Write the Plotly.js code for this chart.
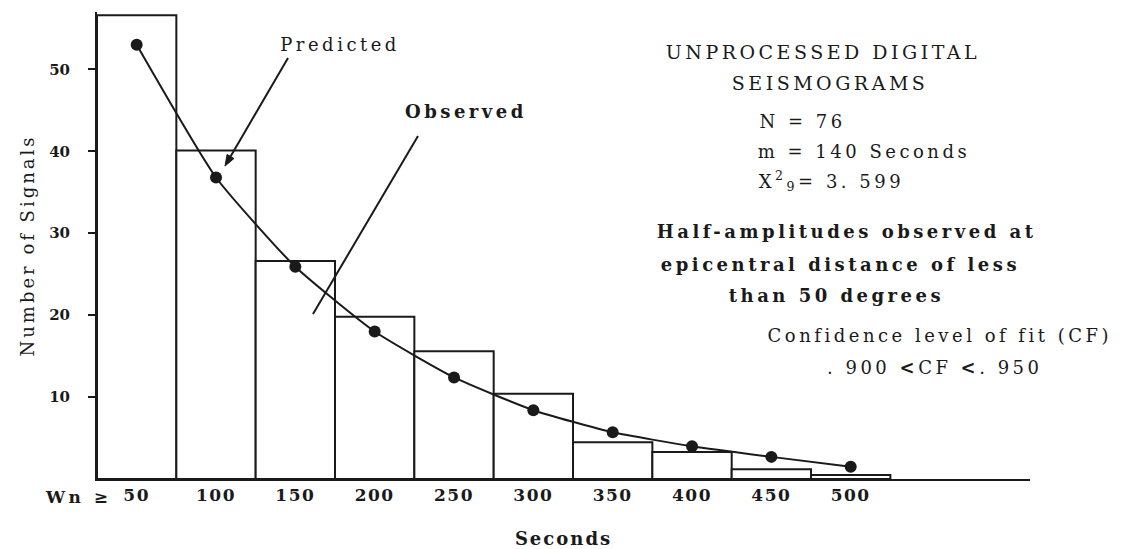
<!DOCTYPE html>
<html><head><meta charset="utf-8">
<script src="https://cdn.plot.ly/plotly-3.0.1.min.js"></script>
<style>
html,body{margin:0;padding:0;background:#fff}
#chart{width:1123px;height:549px}
#chart .annotation-text{letter-spacing:3.5px}
#chart .xtick text{letter-spacing:1.5px}
#chart .g-ytitle text{letter-spacing:3px}
#chart .g-xtitle text{letter-spacing:2px}
</style>
</head><body><div id="chart"></div>
<script>
// Data
const binCenters = [50, 100, 150, 200, 250, 300, 350, 400, 450, 500];
const observed   = [56.6, 40.1, 26.6, 19.8, 15.6, 10.4, 4.5, 3.3, 1.2, 0.5];
const predicted  = [53.0, 36.8, 25.9, 18.0, 12.4, 8.4, 5.7, 4.0, 2.7, 1.5];
const tickLabels = ['50', '100', '150', '200', '250', '300', '350', '400', '450', '500'];
const yTicks = [10, 20, 30, 40, 50];

const W = 1123, H = 549;
const L = 97, R = 93, T = 12, B = 70;
const pw = W - L - R, ph = H - T - B;
const px = v => (v - L) / pw;
const py = v => (H - B - v) / ph;

const F = 'DejaVu Serif, Liberation Serif, serif';
const ink = '#1a1a1a';

const traces = [
  {type: 'bar', x: binCenters, y: observed, width: 50,
   marker: {color: '#ffffff', line: {color: ink, width: 2}}, hoverinfo: 'skip', showlegend: false},
  {type: 'scatter', mode: 'lines+markers', x: binCenters, y: predicted,
   line: {color: ink, width: 2, shape: 'spline', smoothing: 0.5},
   marker: {color: ink, size: 12}, showlegend: false}
];

function txt(text, xpix, ypix, size, bold, anchor) {
  return {text: bold ? '<b>' + text + '</b>' : text, xref: 'paper', yref: 'paper',
    x: px(xpix), y: py(ypix), xanchor: anchor || 'center', yanchor: 'middle',
    showarrow: false, font: {family: F, size: size, color: ink}};
}

const annotations = [
  txt('Predicted', 340, 45, 18, false),
  txt('Observed', 466, 112, 18, true),
  txt('UNPROCESSED DIGITAL', 823, 52, 19, false),
  txt('SEISMOGRAMS', 830, 83, 19, false),
  txt('N = 76', 768, 121, 18, false, 'left'),
  txt('m = 140 Seconds', 782, 151, 18, false, 'left'),
  txt('X<sup>2</sup><sub>9</sub>= 3. 599', 776, 181, 18, false, 'left'),
  txt('Half-amplitudes observed at', 847, 231, 18, true),
  txt('epicentral distance of less', 840, 264, 18, true),
  txt('than 50 degrees', 836, 295, 18, true),
  txt('Confidence level of fit (CF)', 940, 335, 18, false),
  txt('. 900 <b>&lt;</b>CF <b>&lt;</b>. 950', 935, 367, 18, false),
  txt('Wn ≥', 78, 497, 17, true)
];

// leader lines for the two labels
function seg(x0, y0, x1, y1) {
  return {type: 'line', xref: 'paper', yref: 'paper', x0: px(x0), y0: py(y0), x1: px(x1), y1: py(y1),
    line: {color: ink, width: 2}};
}
const tip = [225, 166], tail = [288, 58];
const dx = tip[0] - tail[0], dy = tip[1] - tail[1], len = Math.hypot(dx, dy);
const ux = dx / len, uy = dy / len, hl = 11, hw = 4;
const bx = tip[0] - hl * ux, by = tip[1] - hl * uy;
const headPath = 'M' + px(tip[0]) + ',' + py(tip[1]) +
  ' L' + px(bx - hw * uy) + ',' + py(by + hw * ux) +
  ' L' + px(bx + hw * uy) + ',' + py(by - hw * ux) + ' Z';
const shapes = [
  seg(tail[0], tail[1], bx, by),
  {type: 'path', xref: 'paper', yref: 'paper', path: headPath, fillcolor: ink, line: {color: ink, width: 1}},
  seg(418, 136, 313, 314)
];

const layout = {
  width: W, height: H,
  margin: {l: L, r: R, t: T, b: B, pad: 0},
  paper_bgcolor: '#ffffff', plot_bgcolor: '#ffffff',
  bargap: 0,
  xaxis: {range: [25, 613], showgrid: false, zeroline: false, showline: true,
    linecolor: ink, linewidth: 2, ticks: '', tickvals: binCenters, ticktext: tickLabels,
    tickfont: {family: F, size: 17, color: ink, weight: 'bold'},
    title: {text: '<b>Seconds</b>', font: {family: F, size: 18, color: ink}, standoff: 28}},
  yaxis: {range: [0, 57], showgrid: false, zeroline: false, showline: true,
    linecolor: ink, linewidth: 2, ticks: 'outside', ticklen: 7, tickwidth: 2, tickcolor: ink,
    tickvals: yTicks, ticklabelstandoff: 15,
    tickfont: {family: F, size: 15, color: ink, weight: 'bold'},
    title: {text: 'Number of Signals', font: {family: F, size: 18, color: ink}, standoff: 10}},
  annotations: annotations,
  shapes: shapes,
  font: {family: F, color: ink}
};

Plotly.newPlot('chart', traces, layout, {staticPlot: true, displayModeBar: false});
</script>
</body></html>
